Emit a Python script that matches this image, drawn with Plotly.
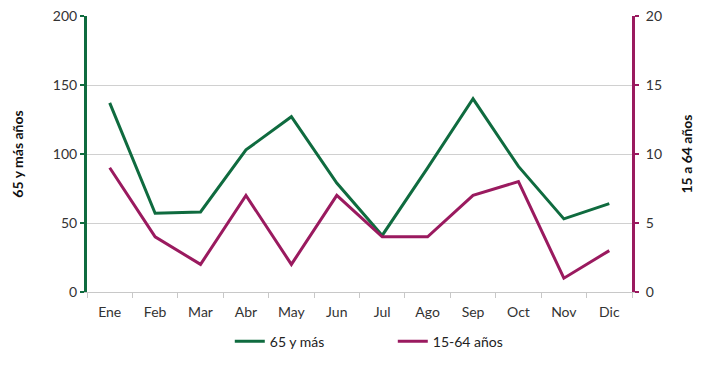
import plotly.graph_objects as go

months = ["Ene", "Feb", "Mar", "Abr", "May", "Jun", "Jul", "Ago", "Sep", "Oct", "Nov", "Dic"]
mayores_65 = [137, 57, 58, 103, 127, 79, 41, 90, 140, 91, 53, 64]
edad_15_64 = [9, 4, 2, 7, 2, 7, 4, 4, 7, 8, 1, 3]

GREEN = "#0f6b3f"
MAGENTA = "#9a1a5f"
FONT = "Lato, Open Sans, sans-serif"

fig = go.Figure()
fig.add_trace(go.Scatter(x=months, y=mayores_65, name="65 y más", mode="lines",
                         line=dict(color=GREEN, width=3), yaxis="y"))
fig.add_trace(go.Scatter(x=months, y=edad_15_64, name="15-64 años", mode="lines",
                         line=dict(color=MAGENTA, width=3), yaxis="y2"))

fig.update_layout(
    width=710, height=367,
    margin=dict(l=87, r=78, t=16, b=75, autoexpand=False),
    paper_bgcolor="white", plot_bgcolor="white",
    font=dict(family=FONT, size=14, color="#404040"),
    showlegend=True,
    legend=dict(orientation="h", x=0.262, xanchor="left", y=-0.18, yanchor="middle",
                entrywidth=118, font=dict(size=14, color="#222222"), traceorder="normal"),
    xaxis=dict(type="category", range=[-0.5, 11.5], showgrid=False, showline=True,
               linecolor="#c8c8c8", linewidth=1,
               ticks="outside", tickson="boundaries", ticklen=5, tickcolor="#c8c8c8",
               ticklabelstandoff=7,
               tickfont=dict(size=14, color="#333333"), zeroline=False),
    yaxis=dict(range=[0, 200], dtick=50, showgrid=True, gridcolor="#d0d0d0", gridwidth=1,
               showline=True, linecolor=GREEN, linewidth=3, ticks="outside", ticklen=4,
               tickcolor=GREEN, tickwidth=2, zeroline=False,
               tickfont=dict(size=14, color="#333333"),
               title=dict(text="<b>65 y más años</b>", standoff=26,
                          font=dict(size=14, color="#111111"))),
    yaxis2=dict(range=[0, 20], dtick=5, overlaying="y", side="right", showgrid=False,
                showline=True, linecolor=MAGENTA, linewidth=3, ticks="outside", ticklen=4,
                tickcolor=MAGENTA, tickwidth=2, zeroline=False, ticklabelstandoff=4,
                tickfont=dict(size=14, color="#333333"),
                title=dict(text="<b>15 a 64 años</b>", standoff=22,
                           font=dict(size=14, color="#111111"))),
)

fig.write_html("out.html", config={"displayModeBar": False},
               post_script="document.body.style.margin='0';")
